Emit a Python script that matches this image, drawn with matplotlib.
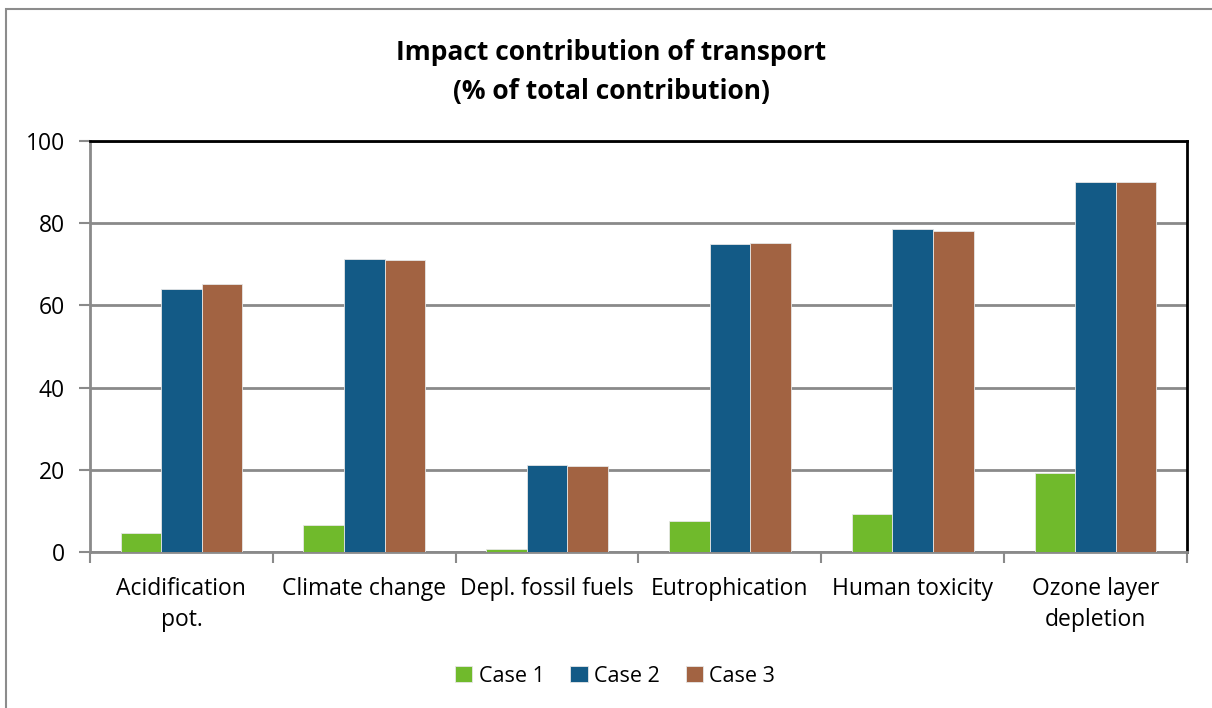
import matplotlib
matplotlib.use("Agg")
import matplotlib.pyplot as plt
from matplotlib.patches import Rectangle
import numpy as np

categories = ["Acidification\npot.", "Climate change", "Depl. fossil fuels",
              "Eutrophication", "Human toxicity", "Ozone layer\ndepletion"]
case1 = [4.6, 6.5, 0.7, 7.5, 9.2, 19.1]
case2 = [64.0, 71.2, 21.1, 75.0, 78.5, 90.0]
case3 = [65.2, 71.0, 21.0, 75.3, 78.2, 90.0]
series_names = ["Case 1", "Case 2", "Case 3"]
colors = ["#70BA2C", "#135A86", "#A26342"]
yticks = [0, 20, 40, 60, 80, 100]

plt.rcParams['font.family'] = ['Open Sans', 'DejaVu Sans']

W, H = 1212, 708
fig = plt.figure(figsize=(W/100, H/100), dpi=100)
fig.patch.set_facecolor("white")

# outer chart border
fig.patches.append(Rectangle((6/W, -0.05), 1.2, 1 - 9/H + 0.05, transform=fig.transFigure,
                             fill=False, edgecolor="#8c8c8c", linewidth=1.5))

ax = fig.add_axes([90/W, 1 - 552/H, (1187-90)/W, (552-141)/H])
x = np.arange(len(categories))
w = 0.222
for i, (vals, name, c) in enumerate(zip([case1, case2, case3], series_names, colors)):
    ax.bar(x + (i - 1) * w, vals, width=w, color=c, label=name,
           edgecolor="#e6e6e6", linewidth=0.6, zorder=3)

ax.set_xlim(-0.5, len(categories) - 0.5)
ax.set_ylim(0, 100)
ax.set_yticks(yticks)
ax.set_yticklabels([str(v) for v in yticks], fontsize=16.5)
ax.yaxis.grid(True, color="#8a8a8a", linewidth=2, zorder=0)
ax.set_axisbelow(True)

ax.set_xticks(x)
ax.set_xticklabels(categories, fontsize=16.5, linespacing=1.4)
ax.tick_params(axis='x', length=0, pad=18)
ax.set_xticks(np.arange(-0.5, len(categories)), minor=True)
ax.tick_params(axis='x', which='minor', length=8, width=1.5, color="#8a8a8a", direction='out')
ax.tick_params(axis='y', length=8, width=1.5, color="#8a8a8a", pad=10)

for s in ['top', 'right']:
    ax.spines[s].set_color("black")
    ax.spines[s].set_linewidth(2)
for s in ['left', 'bottom']:
    ax.spines[s].set_color("#8a8a8a")
    ax.spines[s].set_linewidth(2)

fig.text(611/W, 1 - 72/H, "Impact contribution of transport\n(% of total contribution)",
         ha='center', va='center', fontsize=19, fontweight='bold', linespacing=1.55)

leg = fig.legend(loc='center', bbox_to_anchor=(615/W, 1 - 676/H), ncol=3, frameon=False,
                 fontsize=15.5, handlelength=0.8, handleheight=0.8, handletextpad=0.3,
                 columnspacing=1.2)

fig.savefig("out.png", dpi=100)
